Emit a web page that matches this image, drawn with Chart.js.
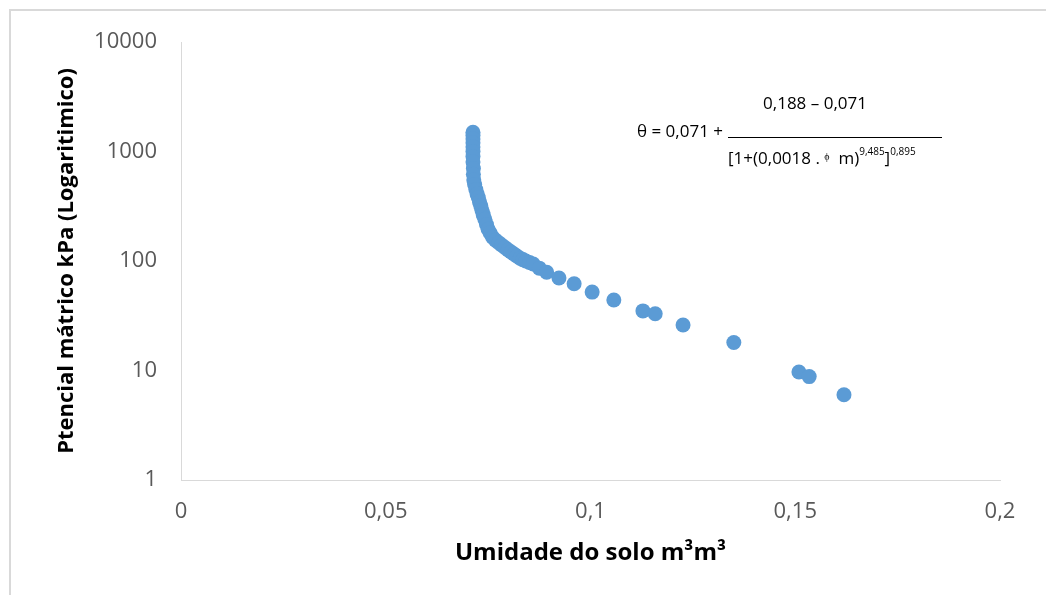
<!DOCTYPE html>
<html>
<head>
<meta charset="utf-8">
<script src="https://cdn.jsdelivr.net/npm/chart.js@4.4.1/dist/chart.umd.min.js"></script>
<style>
    html, body { margin: 0; padding: 0; background: #ffffff; }
    #wrap { position: relative; width: 1046px; height: 595px; overflow: hidden; }
    #frame { position: absolute; left: 9px; top: 9px; width: 1100px; height: 700px; border: 2px solid #d9d9d9; }
    #graph { position: absolute; left: 0; top: 0; }
</style>
</head>
<body>
<div id="wrap">
    <div id="frame"></div>
    <canvas id="graph" width="1046" height="595"></canvas>
</div>
<script>
// soil moisture (m3/m3) and matric potential (kPa)
const moisture = [
    0.0713, 0.0713, 0.0713, 0.0713, 0.0713, 0.0713, 0.0713, 0.0713, 0.0714, 0.0714,
    0.0715, 0.0717, 0.0720, 0.0723, 0.0726, 0.0729, 0.0732, 0.0735, 0.0738, 0.0742,
    0.0746, 0.0750, 0.0755, 0.0761, 0.0768, 0.0776, 0.0783, 0.0791, 0.0799, 0.0806,
    0.0813, 0.0820, 0.0828, 0.0835, 0.0842, 0.0851, 0.0860, 0.0875, 0.0893, 0.0923,
    0.0960, 0.1004, 0.1057, 0.1128, 0.1158, 0.1226, 0.1350, 0.1509, 0.1534, 0.1619
];
const potential = [
    1500, 1400, 1300, 1200, 1100, 1000, 900, 800, 700, 620,
    550, 500, 450, 410, 380, 345, 320, 290, 265, 240,
    215, 195, 180, 165, 155, 147, 140, 133, 126, 121,
    116, 111, 106, 103, 100, 97, 94, 86, 79, 70,
    62, 52, 44, 35, 33, 26, 18, 9.7, 8.8, 6
];
const yTicks = [1, 10, 100, 1000, 10000];

const points = moisture.map((m, i) => ({ x: m, y: potential[i] }));

// equation text drawn over the plot
const equationPlugin = {
    id: 'equation',
    afterDraw(chart) {
        const c = chart.ctx;
        c.save();
        c.fillStyle = '#000000';
        c.textBaseline = 'alphabetic';
        const big = '17px "Open Sans"';
        const small = '10px "Open Sans"';

        c.font = big;
        c.textAlign = 'left';
        c.fillText('θ = 0,071 +', 637, 137);

        c.textAlign = 'center';
        c.fillText('0,188 – 0,071', 815, 109);

        c.strokeStyle = '#000000';
        c.lineWidth = 1;
        c.beginPath();
        c.moveTo(728, 137.5);
        c.lineTo(942, 137.5);
        c.stroke();

        // denominator, piece by piece
        c.textAlign = 'left';
        let x = 728;
        const base = 164;
        const parts = [
            ['[1+(0,0018 . ', big, 0],
            ['ϕ', small, -4],
            ['  m)', big, 0],
            ['9,485', small, -9],
            [']', big, 0],
            ['0,895', small, -9]
        ];
        parts.forEach(p => {
            c.font = p[1];
            c.fillText(p[0], x, base + p[2]);
            x += c.measureText(p[0]).width;
        });
        c.restore();
    }
};

const ctx = document.getElementById('graph').getContext('2d');
const curveChart = new Chart(ctx, {
    type: 'scatter',
    data: {
        datasets: [
            {
                label: 'Umidade',
                data: points,
                backgroundColor: '#5b9bd5',
                borderWidth: 0,
                pointRadius: 7.5,
                pointHoverRadius: 7.5,
            }
        ]
    },
    options: {
        responsive: false,
        animation: false,
        layout: {
            padding: { left: 0, top: 42, right: 46, bottom: 0 }
        },
        plugins: {
            legend: { display: false },
            tooltip: { enabled: false }
        },
        scales: {
            x: {
                type: 'linear',
                min: 0,
                max: 0.2,
                afterFit: (scale) => { scale.height = 115; },
                grid: { display: false, drawTicks: false },
                border: { display: true, color: '#d9d9d9', width: 1 },
                ticks: {
                    stepSize: 0.05,
                    padding: 19,
                    color: '#595959',
                    font: { family: 'Open Sans', size: 22 },
                    callback: (v) => String(Math.round(v * 100) / 100).replace('.', ',')
                },
                title: {
                    display: true,
                    text: 'Umidade do solo m³m³',
                    color: '#000000',
                    font: { family: 'Open Sans', size: 24, weight: 'bold' },
                    padding: { top: 0, bottom: 27 }
                }
            },
            y: {
                type: 'logarithmic',
                min: 1,
                max: 10000,
                afterFit: (scale) => { scale.width = 181; },
                afterBuildTicks: (scale) => { scale.ticks = yTicks.map(v => ({ value: v })); },
                grid: { display: false, drawTicks: false },
                border: { display: true, color: '#d9d9d9', width: 1 },
                ticks: {
                    padding: 24,
                    color: '#595959',
                    font: { family: 'Open Sans', size: 22 },
                    callback: (v) => String(v)
                },
                title: {
                    display: true,
                    text: 'Ptencial mátrico kPa (Logaritimico)',
                    color: '#000000',
                    font: { family: 'Open Sans', size: 22, weight: 'bold' },
                    padding: { top: 54, bottom: 0 }
                }
            }
        }
    },
    plugins: [equationPlugin]
});
</script>
</body>
</html>
